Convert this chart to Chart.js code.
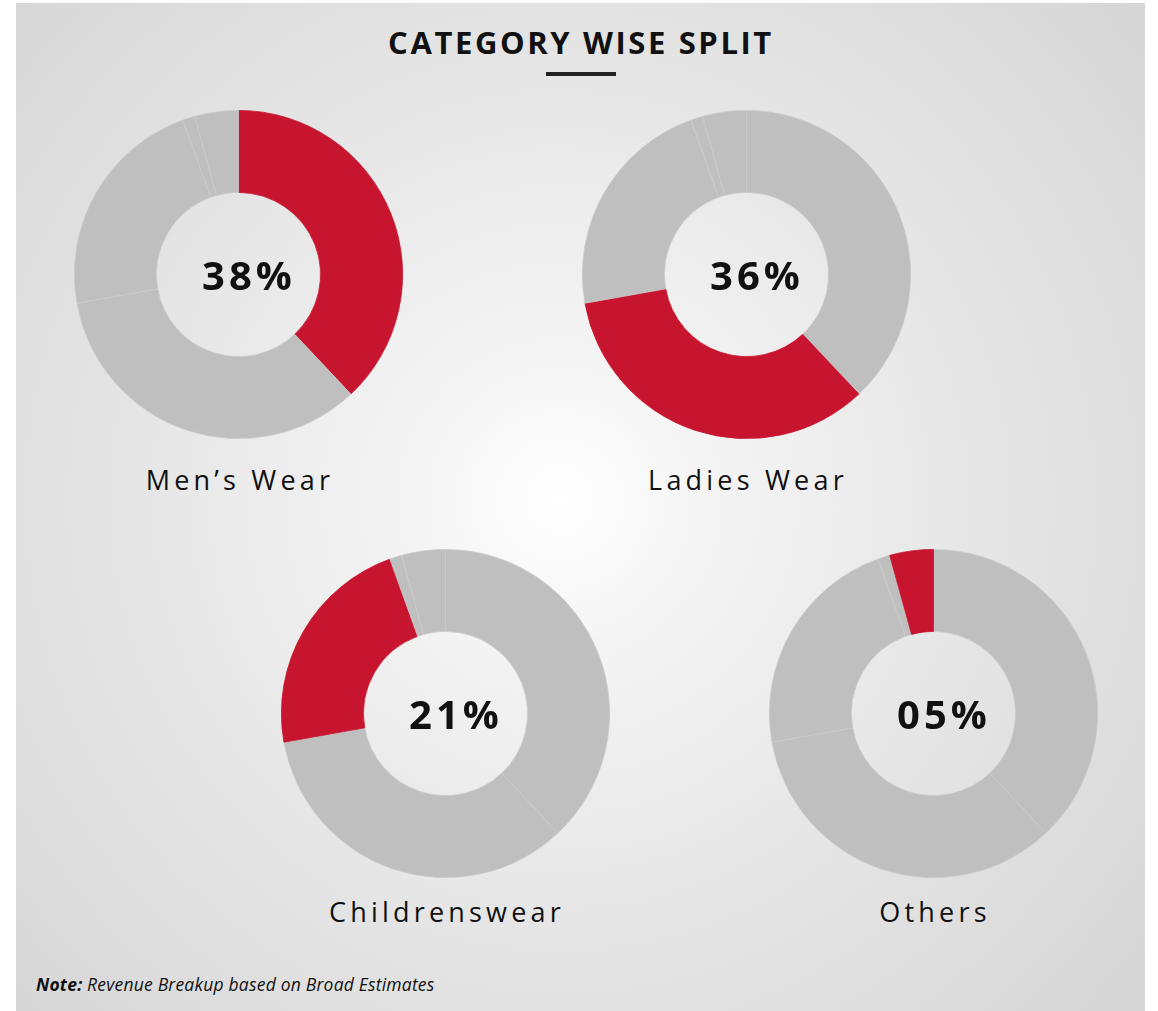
<!DOCTYPE html>
<html>
<head>
<meta charset="utf-8">
<script src="https://cdn.jsdelivr.net/npm/chart.js@4.4.1/dist/chart.umd.min.js"></script>
<style>
  html, body { margin: 0; padding: 0; background: #fff; }
  body { width: 1158px; height: 1011px; position: relative; overflow: hidden; font-family: "Open Sans", "Noto Sans", sans-serif; }
  #panel {
    position: absolute; left: 16px; top: 3px; width: 1129px; height: 1008px;
    background: radial-gradient(circle 760px at 544px 497px, #ffffff 0%, #f4f4f4 20%, #e6e6e6 55%, #d6d6d6 100%);
  }
  .title {
    position: absolute; left: 2px; width: 1158px; top: 22px; text-align: center;
    font-size: 31px; font-weight: 700; letter-spacing: 2.6px; color: #111; line-height: 40px;
  }
  .rule { position: absolute; left: 546px; top: 72px; width: 70px; height: 4px; background: #222; }
  .donut { position: absolute; width: 329px; height: 329px; }
  .pct {
    position: absolute; transform: translate(-50%, -50%); font-size: 40px; font-weight: 700;
    letter-spacing: 4px; color: #111; line-height: 1; white-space: nowrap;
  }
  .cat {
    position: absolute; transform: translate(-50%, -50%); font-size: 27px; font-weight: 400;
    letter-spacing: 4.2px; color: #111; line-height: 1; white-space: nowrap;
  }
  .note { position: absolute; left: 36px; top: 972px; font-size: 17.5px; letter-spacing: 0.2px; font-style: italic; color: #111; }
</style>
</head>
<body>
<div id="panel"></div>
<div class="title">CATEGORY WISE SPLIT</div>
<div class="rule"></div>
<div id="charts"></div>
<div class="note"><b>Note:</b> Revenue Breakup based on Broad Estimates</div>

<script>
// slice order round the ring, clockwise from 12 o'clock
const categories = ['Men’s Wear', 'Ladies Wear', 'Childrenswear', 'Unallocated', 'Others'];
const shares = [38, 34.2, 22.3, 1.2, 4.3];

// one donut per highlighted category
const panels = ['Men’s Wear', 'Ladies Wear', 'Childrenswear', 'Others'];
const centerLabels = ['38%', '36%', '21%', '05%'];
const centersX = [238, 746, 445, 933];
const centersY = [274, 274, 713, 713];
const captionY = [479, 479, 911, 911];

const RED = '#c8152f';
const GREY = '#bfbfbf';

const holder = document.getElementById('charts');

panels.forEach((name, i) => {
    const cx = centersX[i], cy = centersY[i];

    const wrap = document.createElement('div');
    wrap.className = 'donut';
    wrap.style.left = (cx - 164.5) + 'px';
    wrap.style.top = (cy - 164.5) + 'px';
    const canvas = document.createElement('canvas');
    canvas.width = 329;
    canvas.height = 329;
    wrap.appendChild(canvas);
    holder.appendChild(wrap);

    const colors = categories.map(c => c === name ? RED : GREY);
    const borders = categories.map(c => c === name ? RED : '#cacaca');

    new Chart(canvas, {
        type: 'doughnut',
        data: {
            labels: categories,
            datasets: [{
                data: shares,
                backgroundColor: colors,
                borderColor: borders,
                borderWidth: 0.8
            }]
        },
        options: {
            responsive: false,
            animation: false,
            events: [],
            cutout: '50%',
            layout: { padding: 0 },
            plugins: {
                legend: { display: false },
                tooltip: { enabled: false }
            }
        }
    });

    const pct = document.createElement('div');
    pct.className = 'pct';
    pct.textContent = centerLabels[i];
    pct.style.left = (cx + 11) + 'px';
    pct.style.top = (cy + 1) + 'px';
    document.body.appendChild(pct);

    const cap = document.createElement('div');
    cap.className = 'cat';
    cap.textContent = name;
    cap.style.left = (cx + 2) + 'px';
    cap.style.top = captionY[i] + 'px';
    document.body.appendChild(cap);
});
</script>
</body>
</html>
